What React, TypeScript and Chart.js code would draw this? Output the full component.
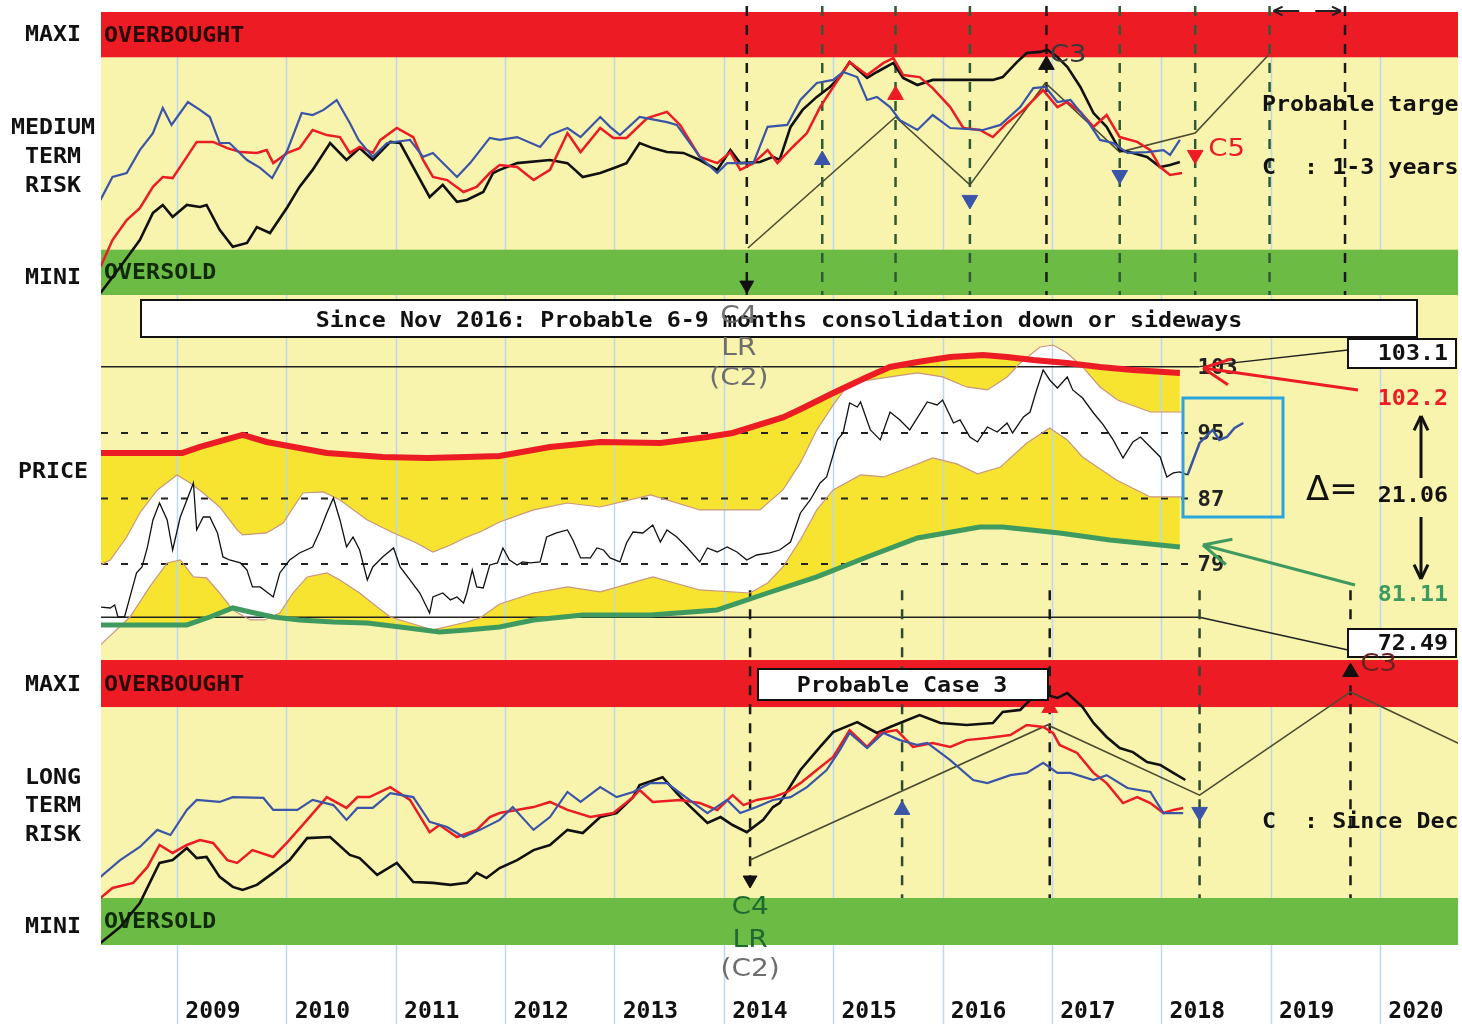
import React, { useEffect, useRef } from "react";
import { Chart, registerables } from "chart.js";
Chart.register(...registerables);

type P = [number, number];

// ---------------- axis / tick data ----------------
const tickYears = [2009, 2010, 2011, 2012, 2013, 2014, 2015, 2016, 2017, 2018, 2019, 2020];
const X_MIN = 2008.305;
const X_MAX = 2020.713;

// ---------------- medium term risk (top panel, 0..100) ----------------
const topBlue: P[] = [[2008.30,33.6],[2008.41,41.7],[2008.54,43.1],[2008.66,51.2],[2008.78,57.2],[2008.87,66.1],[2008.95,60.1],[2009.10,68.2],[2009.21,65.4],[2009.30,62.9],[2009.39,53.7],[2009.48,53.7],[2009.64,47.7],[2009.76,44.9],[2009.87,41.3],[2010.01,51.2],[2010.14,64.3],[2010.24,63.6],[2010.34,65.4],[2010.46,68.9],[2010.58,60.8],[2010.66,54.8],[2010.79,48.8],[2010.92,53.7],[2011.13,54.8],[2011.25,48.8],[2011.34,50.2],[2011.56,41.7],[2011.68,46.6],[2011.86,55.5],[2011.95,54.8],[2012.11,55.8],[2012.32,52.3],[2012.41,56.5],[2012.57,59.0],[2012.69,55.8],[2012.87,62.9],[2012.96,59.4],[2013.05,56.5],[2013.23,62.9],[2013.48,61.1],[2013.57,60.1],[2013.78,48.8],[2013.94,43.1],[2014.03,46.6],[2014.27,46.6],[2014.40,59.4],[2014.58,60.1],[2014.70,68.9],[2014.85,74.9],[2015.00,76.0],[2015.09,78.8],[2015.22,77.0],[2015.31,68.9],[2015.40,70.0],[2015.52,66.4],[2015.61,61.8],[2015.77,58.3],[2015.91,63.6],[2016.07,59.0],[2016.37,58.3],[2016.53,60.1],[2016.71,66.4],[2016.83,73.1],[2016.94,73.5],[2017.05,68.2],[2017.17,68.9],[2017.32,61.8],[2017.44,54.8],[2017.56,53.7],[2017.69,50.2],[2017.87,50.5],[2018.02,51.2],[2018.08,49.5],[2018.17,54.8]];
const topRed: P[] = [[2008.30,9.9],[2008.41,19.4],[2008.54,26.5],[2008.66,30.7],[2008.78,38.2],[2008.87,41.7],[2008.96,41.3],[2009.09,48.8],[2009.18,54.1],[2009.33,54.1],[2009.46,51.9],[2009.58,50.5],[2009.73,50.2],[2009.82,51.2],[2009.88,46.6],[2010.01,50.2],[2010.12,51.9],[2010.24,58.3],[2010.37,56.5],[2010.49,55.8],[2010.58,50.2],[2010.67,52.3],[2010.79,50.2],[2010.86,54.8],[2011.01,59.0],[2011.16,55.8],[2011.25,47.7],[2011.34,41.7],[2011.47,40.6],[2011.62,36.4],[2011.74,38.2],[2011.86,43.1],[2011.95,45.9],[2012.11,45.2],[2012.26,40.6],[2012.41,44.2],[2012.57,57.2],[2012.69,50.5],[2012.87,59.0],[2012.99,55.5],[2013.11,55.5],[2013.30,62.5],[2013.48,64.7],[2013.60,60.1],[2013.78,48.8],[2013.94,46.6],[2014.06,50.5],[2014.15,44.2],[2014.27,46.6],[2014.40,51.2],[2014.49,46.6],[2014.63,52.3],[2014.76,57.2],[2014.88,66.4],[2015.00,73.5],[2015.15,82.3],[2015.31,77.7],[2015.46,82.0],[2015.55,83.7],[2015.64,77.7],[2015.79,77.0],[2015.91,73.1],[2016.07,66.4],[2016.19,59.0],[2016.34,58.3],[2016.46,55.8],[2016.59,60.8],[2016.74,65.4],[2016.92,72.4],[2017.05,66.4],[2017.14,68.2],[2017.26,64.7],[2017.38,59.4],[2017.50,63.6],[2017.62,55.8],[2017.78,54.1],[2017.90,51.2],[2017.99,45.2],[2018.08,42.4],[2018.19,43.1]];
const topBlack: P[] = [[2008.30,0.7],[2008.48,9.9],[2008.66,19.4],[2008.78,29.0],[2008.87,31.8],[2008.96,27.6],[2009.09,31.8],[2009.21,31.1],[2009.27,31.8],[2009.39,23.0],[2009.51,17.0],[2009.64,18.4],[2009.73,24.0],[2009.85,21.9],[2010.01,31.1],[2010.12,38.2],[2010.24,44.2],[2010.40,53.7],[2010.55,47.7],[2010.67,51.9],[2010.79,47.7],[2010.95,54.1],[2011.04,53.7],[2011.16,45.2],[2011.31,34.6],[2011.43,38.9],[2011.56,32.9],[2011.65,33.6],[2011.80,36.4],[2011.89,43.1],[2011.95,44.2],[2012.11,46.6],[2012.41,47.7],[2012.57,46.6],[2012.71,41.7],[2012.87,43.1],[2013.02,45.2],[2013.11,46.6],[2013.23,53.7],[2013.35,51.9],[2013.48,50.5],[2013.63,50.2],[2013.78,47.7],[2013.94,44.2],[2014.06,51.2],[2014.15,46.6],[2014.33,47.0],[2014.45,48.8],[2014.51,47.7],[2014.61,59.4],[2014.72,65.4],[2014.85,70.0],[2014.97,73.5],[2015.06,77.0],[2015.15,82.3],[2015.31,76.7],[2015.40,78.8],[2015.55,82.0],[2015.64,76.7],[2015.77,74.2],[2015.91,76.0],[2016.22,76.0],[2016.46,76.0],[2016.55,77.0],[2016.68,82.3],[2016.77,85.5],[2016.89,85.9],[2016.96,86.6],[2017.05,84.1],[2017.14,80.6],[2017.26,73.5],[2017.38,64.3],[2017.50,59.4],[2017.62,51.2],[2017.74,50.2],[2017.87,48.8],[2017.99,45.2],[2018.08,45.9],[2018.17,47.0]];
const topCycle: P[] = [[2014.22,16.6],[2015.57,62.9],[2016.25,38.9],[2016.94,74.9],[2017.62,50.5],[2018.31,57.2],[2018.98,84.8]];
const topSignalYears = [2014.21, 2014.90, 2015.57, 2016.25, 2016.95, 2017.62, 2018.31, 2018.99, 2019.68];
const topBlueUp: P[] = [[2014.90, 47.7]];
const topBlueDown: P[] = [[2016.25, 33.6], [2017.62, 42.4]];
const topRedUp: P[] = [[2015.57, 70.7]];
const topRedDown: P[] = [[2018.31, 49.5]];
const topBlackUp: P[] = [[2016.95, 81.3]];
const topBlackDown: P[] = [[2014.21, 3.5]];

// ---------------- price panel ----------------
const priceUpperBand: P[] = [[2008.30,92.56],[2009.05,92.56],[2009.21,93.29],[2009.60,94.76],[2009.82,93.90],[2010.37,92.56],[2010.88,92.07],[2011.29,91.95],[2011.65,92.07],[2011.95,92.19],[2012.41,93.29],[2012.87,93.90],[2013.42,93.78],[2013.85,94.51],[2014.08,95.0],[2014.54,96.9],[2014.70,97.9],[2015.00,99.88],[2015.31,101.84],[2015.52,103.06],[2015.77,103.67],[2016.07,104.28],[2016.37,104.52],[2016.59,104.28],[2016.83,103.91],[2017.14,103.55],[2017.44,103.06],[2017.74,102.69],[2018.17,102.33]];
const priceLowerBand: P[] = [[2008.30,71.56],[2009.09,71.56],[2009.30,72.53],[2009.51,73.63],[2009.67,73.14],[2009.88,72.53],[2010.12,72.17],[2010.43,71.92],[2010.74,71.80],[2011.04,71.31],[2011.40,70.70],[2011.65,70.95],[2011.95,71.31],[2012.26,72.17],[2012.71,72.78],[2013.33,72.78],[2013.94,73.39],[2014.40,75.46],[2014.85,77.42],[2015.31,79.86],[2015.77,82.18],[2016.34,83.52],[2016.55,83.52],[2017.07,82.79],[2017.53,81.94],[2018.17,81.08]];
const priceUpperEnv: P[] = [[2008.30,78.88],[2008.39,79.49],[2008.54,82.30],[2008.66,85.23],[2008.82,88.04],[2009.00,89.87],[2009.12,88.89],[2009.24,87.67],[2009.39,85.96],[2009.55,83.16],[2009.60,82.55],[2009.82,82.79],[2009.97,84.01],[2010.15,87.67],[2010.34,87.80],[2010.49,86.82],[2010.74,84.38],[2010.98,82.79],[2011.19,81.57],[2011.34,80.47],[2011.50,81.32],[2011.65,82.30],[2011.77,82.91],[2011.95,84.13],[2012.26,85.60],[2012.57,86.45],[2012.87,85.96],[2013.33,87.43],[2013.78,85.60],[2014.33,85.60],[2014.54,88.04],[2014.70,91.34],[2014.85,95.37],[2015.00,98.42],[2015.15,101.10],[2015.46,101.72],[2015.77,102.33],[2016.00,101.84],[2016.22,100.62],[2016.41,100.25],[2016.59,101.84],[2016.71,103.55],[2016.89,105.50],[2017.01,105.74],[2017.14,104.77],[2017.28,103.06],[2017.44,100.62],[2017.60,99.03],[2017.90,97.56],[2018.20,97.56]];
const priceLowerEnv: P[] = [[2008.30,69.11],[2008.57,72.53],[2008.75,76.20],[2008.91,79.13],[2009.03,79.49],[2009.15,77.42],[2009.27,77.30],[2009.39,75.46],[2009.51,73.39],[2009.67,72.17],[2009.80,72.17],[2009.94,73.02],[2010.06,75.46],[2010.19,77.42],[2010.37,77.91],[2010.49,77.05],[2010.67,75.46],[2010.83,73.75],[2010.95,72.53],[2011.13,71.80],[2011.34,70.95],[2011.65,71.92],[2011.77,72.41],[2011.95,74.12],[2012.26,75.46],[2012.57,76.20],[2012.87,75.59],[2013.35,77.42],[2013.78,75.83],[2014.24,75.46],[2014.40,76.68],[2014.54,78.64],[2014.70,81.94],[2014.85,85.60],[2015.00,88.04],[2015.25,89.87],[2015.46,89.63],[2015.70,90.85],[2015.91,91.95],[2016.13,91.22],[2016.32,90.00],[2016.53,90.85],[2016.77,93.78],[2016.98,95.61],[2017.14,94.15],[2017.28,92.07],[2017.59,89.26],[2017.90,87.19],[2018.20,87.19]];
const priceClose: P[] = [[2008.30,73.75],[2008.39,73.63],[2008.43,74.00],[2008.46,72.53],[2008.52,72.53],[2008.57,74.98],[2008.63,77.91],[2008.68,78.64],[2008.73,81.08],[2008.78,84.38],[2008.84,86.45],[2008.91,84.38],[2008.96,80.71],[2009.03,84.74],[2009.09,86.82],[2009.15,88.89],[2009.18,83.16],[2009.24,84.74],[2009.30,84.74],[2009.37,82.79],[2009.42,79.86],[2009.48,79.49],[2009.58,79.13],[2009.64,78.27],[2009.69,76.20],[2009.76,76.20],[2009.88,74.98],[2009.94,77.91],[2010.03,79.49],[2010.12,80.35],[2010.24,81.08],[2010.31,83.16],[2010.37,85.23],[2010.43,87.06],[2010.49,84.38],[2010.55,81.08],[2010.61,82.30],[2010.67,80.71],[2010.74,77.05],[2010.79,78.64],[2010.88,79.86],[2010.98,80.96],[2011.04,78.64],[2011.13,77.05],[2011.22,75.46],[2011.31,73.02],[2011.34,74.98],[2011.43,75.46],[2011.50,74.61],[2011.56,74.98],[2011.62,74.24],[2011.65,75.46],[2011.70,78.27],[2011.74,76.20],[2011.80,76.07],[2011.86,78.88],[2011.93,79.13],[2011.98,80.96],[2012.04,79.49],[2012.11,78.88],[2012.16,79.25],[2012.23,79.13],[2012.32,79.25],[2012.38,82.30],[2012.47,82.79],[2012.57,83.16],[2012.62,81.94],[2012.69,79.74],[2012.78,79.74],[2012.84,80.96],[2012.90,80.71],[2012.96,79.74],[2013.05,79.25],[2013.11,81.57],[2013.17,82.91],[2013.26,82.79],[2013.35,83.77],[2013.42,81.69],[2013.48,83.16],[2013.57,82.30],[2013.66,81.08],[2013.78,79.25],[2013.85,80.96],[2013.94,80.47],[2014.03,81.08],[2014.12,80.47],[2014.21,79.49],[2014.30,80.10],[2014.42,80.35],[2014.51,80.71],[2014.61,81.69],[2014.70,85.23],[2014.79,86.82],[2014.88,88.89],[2014.94,89.63],[2015.04,94.15],[2015.09,95.00],[2015.15,98.66],[2015.22,98.17],[2015.25,98.79],[2015.34,95.37],[2015.43,94.15],[2015.52,97.56],[2015.61,96.59],[2015.70,95.37],[2015.86,98.79],[2015.95,98.42],[2016.00,99.03],[2016.10,96.22],[2016.16,96.59],[2016.25,94.51],[2016.32,93.90],[2016.41,95.73],[2016.50,95.12],[2016.59,96.22],[2016.64,95.00],[2016.74,96.95],[2016.80,97.56],[2016.86,100.25],[2016.92,102.69],[2016.98,101.47],[2017.05,100.49],[2017.14,101.84],[2017.19,100.25],[2017.28,99.27],[2017.38,97.44],[2017.47,95.98],[2017.56,94.15],[2017.65,91.95],[2017.74,93.90],[2017.81,94.51],[2017.90,93.29],[2017.99,92.07],[2018.05,89.63],[2018.11,90.12],[2018.17,90.24],[2018.24,89.87]];
const priceRecent: P[] = [[2018.24,89.87],[2018.35,93.78],[2018.47,95.37],[2018.53,94.15],[2018.60,94.51],[2018.67,95.61],[2018.75,96.22]];
const priceLevels = [95, 87, 79];
const rangeHigh = 103.1;
const rangeLow = 72.49;
const levelTop = 103;
const forecastHigh = 102.2;
const forecastLow = 81.11;
const forecastDelta = 21.06;

// ---------------- long term risk (bottom panel, 0..100) ----------------
const botBlue: P[] = [[2008.30,23.9],[2008.48,29.8],[2008.66,34.4],[2008.82,40.4],[2008.94,38.6],[2009.09,47.4],[2009.18,50.9],[2009.39,50.2],[2009.51,51.9],[2009.79,51.6],[2009.88,47.4],[2010.10,47.4],[2010.24,50.9],[2010.43,49.1],[2010.55,43.9],[2010.65,48.1],[2010.79,48.1],[2010.95,53.3],[2011.16,51.9],[2011.31,43.2],[2011.47,41.4],[2011.62,37.9],[2011.77,40.4],[2011.95,43.9],[2012.07,48.4],[2012.26,40.4],[2012.41,44.9],[2012.57,53.7],[2012.69,50.2],[2012.87,55.4],[2013.02,51.9],[2013.17,53.7],[2013.33,56.8],[2013.48,56.8],[2013.66,51.6],[2013.85,46.3],[2014.03,50.9],[2014.15,46.3],[2014.30,48.4],[2014.45,50.9],[2014.61,51.9],[2014.76,55.4],[2014.94,61.4],[2015.06,68.4],[2015.15,74.4],[2015.31,69.1],[2015.46,74.4],[2015.61,71.9],[2015.77,70.2],[2015.86,70.9],[2016.07,64.9],[2016.28,57.9],[2016.41,56.8],[2016.62,59.6],[2016.77,60.4],[2016.92,63.9],[2017.05,60.4],[2017.17,60.4],[2017.38,57.9],[2017.50,59.6],[2017.69,55.1],[2017.90,53.7],[2018.02,46.3],[2018.20,46.3]];
const botRed: P[] = [[2008.30,16.5],[2008.41,20.0],[2008.60,21.8],[2008.73,27.4],[2008.84,35.1],[2008.96,32.3],[2009.09,35.1],[2009.21,36.8],[2009.33,35.8],[2009.46,29.8],[2009.55,28.8],[2009.69,33.3],[2009.88,30.9],[2010.01,36.1],[2010.19,43.9],[2010.37,51.9],[2010.55,48.1],[2010.65,51.9],[2010.76,51.9],[2010.95,55.4],[2011.13,50.9],[2011.31,39.6],[2011.40,42.1],[2011.56,37.9],[2011.74,40.4],[2011.86,44.9],[2011.95,46.3],[2012.26,48.4],[2012.41,50.2],[2012.57,47.4],[2012.78,44.9],[2012.99,46.3],[2013.17,51.9],[2013.23,54.4],[2013.35,50.2],[2013.60,50.9],[2013.78,49.8],[2013.94,47.4],[2014.08,52.6],[2014.18,49.1],[2014.30,50.9],[2014.45,51.9],[2014.58,53.7],[2014.70,56.8],[2014.85,61.4],[2015.00,66.0],[2015.15,75.4],[2015.31,69.5],[2015.43,74.4],[2015.58,75.4],[2015.73,69.5],[2015.91,70.9],[2016.07,69.5],[2016.22,71.9],[2016.41,72.6],[2016.62,73.7],[2016.77,77.2],[2016.92,76.5],[2017.01,74.4],[2017.07,70.2],[2017.23,67.4],[2017.38,60.4],[2017.50,56.8],[2017.65,49.8],[2017.78,51.9],[2017.90,49.8],[2018.02,46.3],[2018.11,47.4],[2018.20,48.1]];
const botBlack: P[] = [[2008.30,0.7],[2008.48,6.3],[2008.66,14.7],[2008.84,28.8],[2008.96,29.8],[2009.09,34.0],[2009.18,30.5],[2009.27,30.9],[2009.39,23.9],[2009.51,20.4],[2009.60,19.3],[2009.73,21.1],[2009.88,25.3],[2010.03,29.8],[2010.19,37.5],[2010.40,37.9],[2010.58,31.6],[2010.67,30.5],[2010.83,24.6],[2011.01,28.8],[2011.16,22.1],[2011.34,21.8],[2011.50,21.1],[2011.65,21.8],[2011.74,25.3],[2011.83,23.5],[2011.95,27.0],[2012.11,29.8],[2012.26,33.3],[2012.41,35.1],[2012.57,40.4],[2012.71,39.3],[2012.87,44.9],[2013.02,46.3],[2013.17,51.9],[2013.23,56.1],[2013.44,58.9],[2013.57,53.3],[2013.66,49.8],[2013.85,42.8],[2013.97,44.9],[2014.08,42.1],[2014.21,39.6],[2014.36,43.9],[2014.45,48.4],[2014.51,49.8],[2014.70,61.4],[2014.88,69.5],[2015.00,74.7],[2015.22,78.2],[2015.40,74.4],[2015.52,76.5],[2015.61,77.9],[2015.79,80.7],[2015.98,77.9],[2016.22,77.2],[2016.46,77.9],[2016.55,81.8],[2016.71,82.5],[2016.80,86.0],[2016.96,87.7],[2017.05,86.7],[2017.14,88.4],[2017.28,83.5],[2017.38,77.9],[2017.50,73.0],[2017.62,69.1],[2017.74,67.7],[2017.87,64.2],[2017.99,63.2],[2018.11,60.4],[2018.22,57.9]];
const botCycle: P[] = [[2014.24,29.8],[2016.96,77.2],[2018.35,52.6],[2019.73,88.8],[2020.75,70.2]];
const botSignalYears = [2014.24, 2015.63, 2016.98, 2018.35, 2019.73];
const botBlackDown: P[] = [[2014.24, 22.8]];
const botBlueUp: P[] = [[2015.63, 47.4]];
const botRedUp: P[] = [[2016.98, 83.2]];
const botBlueDown: P[] = [[2018.35, 46.7]];
const botBlackUp: P[] = [[2019.73, 95.8]];

// zone limits (risk scale)
const topZones = { overbought: 84, oversold: 16 };
const botZones = { overbought: 83.5, oversold: 16.5 };

// ---------------- styling ----------------
const BG = "#f8f4ae";
const BAND_RED = "#ed1c24";
const BAND_GREEN = "#6cbb44";
const FILL_YELLOW = "#f6e430";
const GRID = "#bcd8ee";
const BLUE = "#3a55a8";
const RED = "#ec1c24";
const GREEN_LINE = "#3f9a5f";
const ENV = "#c9967e";
const CYCLE = "#4b4b32";
const MONO = '"DejaVu Sans Mono", monospace';
const SANS = '"DejaVu Sans", sans-serif';

function txt(ctx: any, s: string, x: number, y: number, size: number, color: string, o: any = {}) {
  const { align = "left", bold = true, family = MONO, sx = 1.06 } = o;
  ctx.save();
  ctx.font = `${bold ? "bold " : ""}${size}px ${family}`;
  ctx.fillStyle = color;
  ctx.textAlign = align;
  ctx.textBaseline = "middle";
  ctx.translate(x, y);
  ctx.scale(sx, 1);
  ctx.fillText(s, 0, 0);
  ctx.restore();
}
function seg(ctx: any, x1: number, y1: number, x2: number, y2: number, color: string, w: number, dash: number[] = []) {
  ctx.save();
  ctx.strokeStyle = color;
  ctx.lineWidth = w;
  ctx.setLineDash(dash);
  ctx.beginPath();
  ctx.moveTo(x1, y1);
  ctx.lineTo(x2, y2);
  ctx.stroke();
  ctx.restore();
}
function arrow(ctx: any, x1: number, y1: number, x2: number, y2: number, color: string, w: number, head = 16) {
  seg(ctx, x1, y1, x2, y2, color, w);
  const a = Math.atan2(y2 - y1, x2 - x1);
  for (const d of [0.45, -0.45]) {
    seg(ctx, x2, y2, x2 - head * Math.cos(a + d), y2 - head * Math.sin(a + d), color, w);
  }
}
function box(ctx: any, x: number, y: number, w: number, h: number) {
  ctx.save();
  ctx.fillStyle = "#ffffff";
  ctx.fillRect(x, y, w, h);
  ctx.strokeStyle = "#111";
  ctx.lineWidth = 2;
  ctx.strokeRect(x, y, w, h);
  ctx.restore();
}

const decorPlugin = {
  id: "decor",
  beforeDraw(chart: any) {
    const { ctx, chartArea: a } = chart;
    ctx.save();
    ctx.fillStyle = "#ffffff";
    ctx.fillRect(0, 0, chart.width, chart.height);
    ctx.fillStyle = BG;
    ctx.fillRect(a.left, a.top, a.right - a.left, a.bottom - a.top);
    ctx.restore();
  },
  beforeDatasetsDraw(chart: any) {
    const { ctx, chartArea: a } = chart;
    const xs = chart.scales.x, yT = chart.scales.yTop, yB = chart.scales.yBot, yP = chart.scales.yPrice;
    // year grid
    for (const yr of tickYears) {
      const px = Math.round(xs.getPixelForValue(yr)) + 0.5;
      seg(ctx, px, a.top, px, chart.height, GRID, 1.5);
    }
    // zones
    const band = (sc: any, lo: number, hi: number, color: string) => {
      const y1 = sc.getPixelForValue(hi), y2 = sc.getPixelForValue(lo);
      ctx.fillStyle = color;
      ctx.fillRect(a.left, y1, a.right - a.left, y2 - y1);
      return (y1 + y2) / 2;
    };
    const t1 = band(yT, topZones.overbought, 100, BAND_RED);
    const t2 = band(yT, 0, topZones.oversold, BAND_GREEN);
    const b1 = band(yB, botZones.overbought, 100, BAND_RED);
    const b2 = band(yB, 0, botZones.oversold, BAND_GREEN);
    txt(ctx, "OVERBOUGHT", a.left + 3, t1 + 2, 22, "#2a0808");
    txt(ctx, "OVERSOLD", a.left + 3, t2 + 1, 22, "#102a08");
    txt(ctx, "OVERBOUGHT", a.left + 3, b1 + 2, 22, "#2a0808");
    txt(ctx, "OVERSOLD", a.left + 3, b2 + 1, 22, "#102a08");
    const lx = 53;
    txt(ctx, "MAXI", lx, t1 + 1, 22, "#111", { align: "center" });
    txt(ctx, "MEDIUM", lx, 128, 22, "#111", { align: "center" });
    txt(ctx, "TERM", lx, 157, 22, "#111", { align: "center" });
    txt(ctx, "RISK", lx, 186, 22, "#111", { align: "center" });
    txt(ctx, "MINI", lx, t2 + 6, 22, "#111", { align: "center" });
    txt(ctx, "PRICE", lx, 472, 22, "#111", { align: "center" });
    txt(ctx, "MAXI", lx, b1 + 2, 22, "#111", { align: "center" });
    txt(ctx, "LONG", lx, 778, 22, "#111", { align: "center" });
    txt(ctx, "TERM", lx, 806, 22, "#111", { align: "center" });
    txt(ctx, "RISK", lx, 835, 22, "#111", { align: "center" });
    txt(ctx, "MINI", lx, b2 + 6, 22, "#111", { align: "center" });

    // price reference levels
    const endX = xs.getPixelForValue(2018.3);
    const bendX = xs.getPixelForValue(2018.35);
    for (const lv of priceLevels) {
      const py = yP.getPixelForValue(lv);
      seg(ctx, a.left, py, endX, py, "#222", 2, [7, 13]);
      txt(ctx, String(lv), bendX - 2, py + 2, 21, "#222");
    }
    const hy = yP.getPixelForValue(rangeHigh), ly = yP.getPixelForValue(rangeLow);
    seg(ctx, a.left, hy, bendX, hy, "#222", 1.5);
    seg(ctx, bendX, hy, 1348, 350, "#222", 1.5);
    seg(ctx, a.left, ly, bendX, ly, "#222", 1.5);
    seg(ctx, bendX, ly, 1348, 650, "#222", 1.5);
    txt(ctx, String(levelTop), bendX - 2, yP.getPixelForValue(levelTop) + 1, 21, "#222");
    // signal verticals
    topSignalYears.forEach((yr, i) => {
      const px = xs.getPixelForValue(yr);
      const col = i === 0 || i === 4 || i === 8 ? "#1a1a1a" : "#2e5a35";
      seg(ctx, px, 6, px, yT.getPixelForValue(0), col, 2.5, [10, 9]);
    });
    botSignalYears.forEach((yr, i) => {
      const px = xs.getPixelForValue(yr);
      const col = i === 0 || i === 2 || i === 4 ? "#1a1a1a" : "#2e4a35";
      const yEnd = i === 0 ? yB.getPixelForValue(22) : yB.getPixelForValue(botZones.oversold);
      seg(ctx, px, yP.getPixelForValue(75.8), px, yEnd, col, 2.5, [10, 9]);
    });
  },
  afterDatasetsDraw(chart: any) {
    const { ctx, chartArea: a } = chart;
    const xs = chart.scales.x;
    // headline box
    box(ctx, 141, 300, 1276, 37);
    txt(ctx, "Since Nov 2016: Probable 6-9 months consolidation down or sideways", 779, 321, 22, "#111", { align: "center" });
    const c4x = xs.getPixelForValue(2014.22);
    const gray = { align: "center", bold: false, family: SANS, sx: 1.12 };
    txt(ctx, "C4", c4x - 9, 316, 25, "#6e6e6e", gray);
    txt(ctx, "LR", c4x - 9, 348, 25, "#6e6e6e", gray);
    txt(ctx, "(C2)", c4x - 9, 378, 25, "#6e6e6e", gray);
    // value boxes
    box(ctx, 1348, 339, 108, 29);
    txt(ctx, String(rangeHigh), 1448, 354, 22, "#111", { align: "right" });
    box(ctx, 1348, 629, 108, 28);
    txt(ctx, String(rangeLow), 1448, 644, 22, "#111", { align: "right" });
    // forecast arrows
    arrow(ctx, 1358, 390, 1203, 368, RED, 3, 30);
    txt(ctx, String(forecastHigh), 1448, 399, 22, RED, { align: "right" });
    arrow(ctx, 1355, 585, 1203, 545, GREEN_LINE, 3, 30);
    txt(ctx, String(forecastLow), 1448, 595, 22, GREEN_LINE, { align: "right" });
    txt(ctx, "\u0394=", 1306, 491, 34, "#111", { bold: false, family: SANS, sx: 1.0 });
    txt(ctx, forecastDelta.toFixed(2), 1448, 496, 22, "#111", { align: "right" });
    arrow(ctx, 1421, 478, 1421, 416, "#111", 3, 16);
    arrow(ctx, 1421, 517, 1421, 579, "#111", 3, 16);
    // blue focus rectangle
    ctx.save();
    ctx.strokeStyle = "#2aa5dc";
    ctx.lineWidth = 3;
    ctx.strokeRect(1183, 398, 100, 119);
    ctx.restore();
    // bottom panel box
    box(ctx, 758, 669, 290, 31);
    txt(ctx, "Probable Case 3", 902, 686, 22, "#111", { align: "center" });
    const c4b = xs.getPixelForValue(2014.24);
    txt(ctx, "C4", c4b, 907, 25, "#1f6b2f", gray);
    txt(ctx, "LR", c4b, 940, 25, "#1f6b2f", gray);
    txt(ctx, "(C2)", c4b, 969, 25, "#6e6e6e", gray);
    // right-hand notes (clipped at the plot edge)
    ctx.save();
    ctx.beginPath();
    ctx.rect(0, 0, a.right, chart.height);
    ctx.clip();
    txt(ctx, "Probable target", 1262, 105, 22, "#111");
    txt(ctx, "C  : 1-3 years", 1262, 168, 22, "#111");
    txt(ctx, "C  : Since Dec", 1262, 822, 22, "#111");
    ctx.restore();
    // cycle labels
    const lab = { bold: false, family: SANS, sx: 1.1 };
    txt(ctx, "C3", xs.getPixelForValue(2016.98), 55, 25, "#3a3a3a", lab);
    txt(ctx, "C5", xs.getPixelForValue(2018.43), 149, 25, RED, lab);
    txt(ctx, "C3", xs.getPixelForValue(2019.82), 664, 25, "#6a2020", lab);
    // small span arrow at top
    const s1 = xs.getPixelForValue(topSignalYears[7]) + 4, s2 = xs.getPixelForValue(topSignalYears[8]) - 4;
    arrow(ctx, (s1 + s2) / 2 - 8, 11, s1, 11, "#222", 2, 10);
    arrow(ctx, (s1 + s2) / 2 + 8, 11, s2, 11, "#222", 2, 10);
  },
};

function lineDs(data: P[], yAxisID: string, color: string, width: number, extra: any = {}) {
  return {
    type: "line",
    data: data.map(([x, y]) => ({ x, y })),
    yAxisID,
    xAxisID: "x",
    borderColor: color,
    borderWidth: width,
    pointRadius: 0,
    fill: false,
    tension: 0,
    order: 5,
    ...extra,
  };
}
function markerDs(data: P[], yAxisID: string, color: string, down: boolean, radius = 9) {
  return {
    type: "line",
    data: data.map(([x, y]) => ({ x, y })),
    yAxisID,
    xAxisID: "x",
    showLine: false,
    pointStyle: "triangle",
    pointRotation: down ? 180 : 0,
    pointRadius: radius,
    pointBackgroundColor: color,
    pointBorderColor: color,
    pointBorderWidth: 1,
    order: 1,
  };
}

export default function App() {
  const ref = useRef<HTMLCanvasElement | null>(null);
  useEffect(() => {
    document.body.style.margin = "0";
    const canvas = ref.current;
    if (!canvas) return;
    const datasets: any[] = [
      // price envelopes (indices 0..3, used by fills)
      lineDs(priceUpperBand, "yPrice", RED, 6, { order: 9, fill: { target: "+1", above: FILL_YELLOW, below: "rgba(0,0,0,0)" } }),
      lineDs(priceUpperEnv, "yPrice", ENV, 1.2, { order: 10 }),
      lineDs(priceLowerEnv, "yPrice", ENV, 1.2, { order: 10, fill: { target: "-1", above: "#ffffff", below: "#ffffff" } }),
      lineDs(priceLowerBand, "yPrice", GREEN_LINE, 5, { order: 9, fill: { target: "-1", above: "rgba(0,0,0,0)", below: FILL_YELLOW } }),
      lineDs(priceClose, "yPrice", "#111", 1.3),
      lineDs(priceRecent, "yPrice", BLUE, 2.5),
      // top panel
      lineDs(topCycle, "yTop", CYCLE, 1.6, { order: 6 }),
      lineDs(topBlue, "yTop", BLUE, 2.2),
      lineDs(topRed, "yTop", RED, 2.5),
      lineDs(topBlack, "yTop", "#111", 2.6),
      // bottom panel
      lineDs(botCycle, "yBot", CYCLE, 1.6, { order: 6 }),
      lineDs(botBlue, "yBot", BLUE, 2.2),
      lineDs(botRed, "yBot", RED, 2.5),
      lineDs(botBlack, "yBot", "#111", 2.6),
      // signal markers
      markerDs(topBlueUp, "yTop", BLUE, false),
      markerDs(topBlueDown, "yTop", BLUE, true),
      markerDs(topRedUp, "yTop", RED, false),
      markerDs(topRedDown, "yTop", RED, true),
      markerDs(topBlackUp, "yTop", "#111", false),
      markerDs(topBlackDown, "yTop", "#111", true, 8),
      markerDs(botBlackDown, "yBot", "#111", true, 8),
      markerDs(botBlueUp, "yBot", BLUE, false),
      markerDs(botRedUp, "yBot", RED, false),
      markerDs(botBlueDown, "yBot", BLUE, true),
      markerDs(botBlackUp, "yBot", "#111", false),
    ];
    const hiddenY = (min: number, max: number) => ({
      type: "linear",
      display: false,
      min,
      max,
      position: "left",
    });
    const chart = new Chart(canvas, {
      type: "line",
      data: { datasets },
      plugins: [decorPlugin as any],
      options: {
        animation: false,
        responsive: false,
        devicePixelRatio: 1,
        events: [],
        layout: { autoPadding: false, padding: { left: 101, right: 4, top: 12, bottom: 0 } },
        plugins: {
          legend: { display: false },
          tooltip: { enabled: false },
          filler: { drawTime: "beforeDatasetsDraw" },
        },
        scales: {
          x: {
            type: "linear",
            min: X_MIN,
            max: X_MAX,
            position: "bottom",
            grid: { display: true, drawOnChartArea: false, drawTicks: true, tickLength: 53, color: "rgba(0,0,0,0)" },
            border: { display: false },
            afterBuildTicks: (s: any) => {
              s.ticks = tickYears.map((v) => ({ value: v }));
            },
            afterFit: (s: any) => {
              s.height = 79;
              s.paddingLeft = 0;
              s.paddingRight = 0;
            },
            ticks: {
              autoSkip: false,
              maxRotation: 0,
              padding: 0,
              labelOffset: 36,
              color: "#111",
              font: { family: MONO, size: 23, weight: "bold" },
              callback: (v: any) => String(v),
            },
          },
          // each panel shares the full plot height; ranges place it in its own strip
          yTop: hiddenY(-229.7, 100),
          yPrice: hiddenY(32.48, 146.4),
          yBot: hiddenY(0, 327.4),
        },
      } as any,
    } as any);
    return () => chart.destroy();
  }, []);
  return (
    <div style={{ width: 1462, height: 1024 }}>
      <canvas ref={ref} width={1462} height={1024} style={{ display: "block" }} />
    </div>
  );
}
